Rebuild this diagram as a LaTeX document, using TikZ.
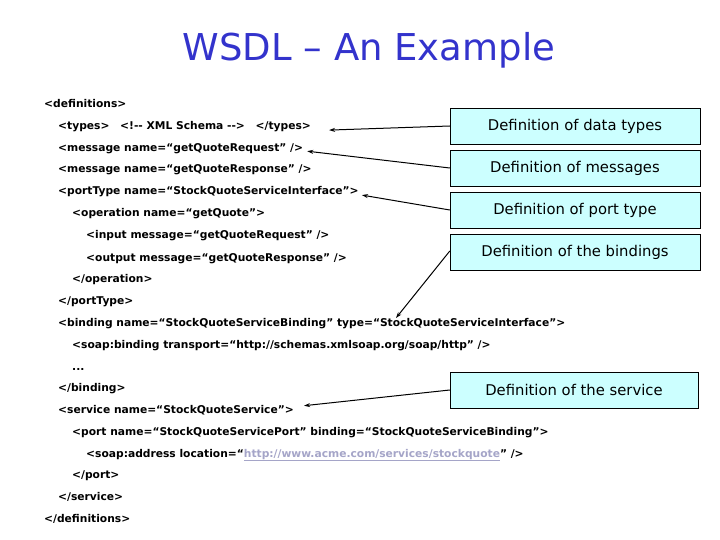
\documentclass[tikz,border=0pt]{standalone}
\usepackage{fontspec}
\setmainfont{DejaVu Sans}
\newfontfamily\titlefont{DejaVu Sans}
\usetikzlibrary{arrows, arrows.meta}
\definecolor{titleblue}{RGB}{51,51,204}
\definecolor{boxcyan}{RGB}{204,255,255}
\definecolor{urlgray}{RGB}{165,165,200}

\begin{document}
\begin{tikzpicture}[x=1pt, y=-1pt,
    code/.style={anchor=base west, inner sep=0pt, font=\fontsize{10.7}{12}\selectfont\bfseries},
    defbox/.style={draw, fill=boxcyan, minimum width=250pt, minimum height=36pt, inner sep=0pt, font=\fontsize{14.8}{17}\selectfont},
    pointer/.style={-{Stealth[length=6pt, width=4pt]}, line width=1pt}]
      \useasboundingbox (0,0) rectangle (720,540);

      \node[font=\fontsize{37}{40}\selectfont\titlefont, text=titleblue] (title) at (369,50) {WSDL – An Example};

      \node[code] (defs) at (44,108) {<definitions>};
      \node[code] (types) at (58,130) {<types>\quad <!-{}- XML Schema -{}->\quad </types>};
      \node[code] (msgreq) at (58,152) {<message name=“getQuoteRequest” />};
      \node[code] (msgres) at (58,173) {<message name=“getQuoteResponse” />};
      \node[code] (ptype) at (58,195) {<portType name=“StockQuoteServiceInterface”>};
      \node[code] (oper) at (72,217) {<operation name=“getQuote”>};
      \node[code] (input) at (86,239) {<input message=“getQuoteRequest” />};
      \node[code] (output) at (86,261) {<output message=“getQuoteResponse” />};
      \node[code] (operend) at (72,282) {</operation>};
      \node[code] (ptypeend) at (58,304) {</portType>};
      \node[code] (bind) at (58,326) {<binding name=“StockQuoteServiceBinding” type=“StockQuoteServiceInterface”>};
      \node[code] (soapbind) at (72,348) {<soap:binding transport=“http://schemas.xmlsoap.org/soap/http” />};
      \node[code] (dots) at (72,370) {...};
      \node[code] (bindend) at (58,391) {</binding>};
      \node[code] (serv) at (58,413) {<service name=“StockQuoteService”>};
      \node[code] (port) at (72,435) {<port name=“StockQuoteServicePort” binding=“StockQuoteServiceBinding”>};
      \node[code] (addr) at (86,457) {<soap:address location=“\textcolor{urlgray}{\underline{http://www.acme.com/services/stockquote}}” />};
      \node[code] (portend) at (72,478) {</port>};
      \node[code] (servend) at (58,500) {</service>};
      \node[code] (defsend) at (44,522) {</definitions>};

      \node[defbox] (bdata) at (575,126) {Definition of data types};
      \node[defbox] (bmsg) at (575,168) {Definition of messages};
      \node[defbox] (bport) at (575,210) {Definition of port type};
      \node[defbox] (bbind) at (575,252) {Definition of the bindings};
      \node[defbox, minimum width=248pt] (bserv) at (574,390) {Definition of the service};

      \coordinate (bindtip) at (396,318);

      \draw[pointer] (bdata.west) -- ([xshift=18pt, yshift=-3pt]types.east);
      \draw[pointer] (bmsg.west) -- ([xshift=4pt, yshift=-2pt]msgreq.east);
      \draw[pointer] (bport.west) -- ([xshift=3pt, yshift=-3pt]ptype.east);
      \draw[pointer] ([yshift=1pt]bbind.west) -- (bindtip);
      \draw[pointer] (bserv.west) -- ([xshift=10pt, yshift=4pt]serv.east);
    \end{tikzpicture}
\end{document}
